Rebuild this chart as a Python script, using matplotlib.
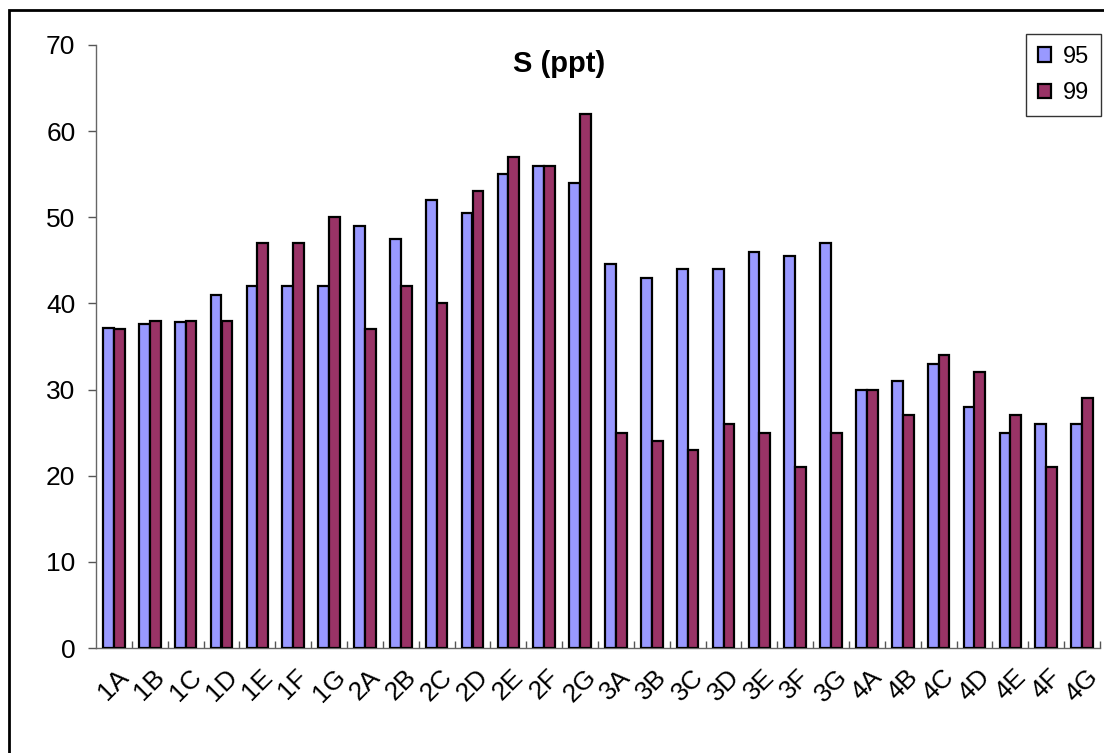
import matplotlib
matplotlib.use("Agg")
import matplotlib.pyplot as plt
import numpy as np
from matplotlib.patches import Rectangle

categories = ["1A", "1B", "1C", "1D", "1E", "1F", "1G",
              "2A", "2B", "2C", "2D", "2E", "2F", "2G",
              "3A", "3B", "3C", "3D", "3E", "3F", "3G",
              "4A", "4B", "4C", "4D", "4E", "4F", "4G"]
s95 = [37.2, 37.6, 37.8, 41, 42, 42, 42,
       49, 47.5, 52, 50.5, 55, 56, 54,
       44.6, 43, 44, 44, 46, 45.5, 47,
       30, 31, 33, 28, 25, 26, 26]
s99 = [37, 38, 38, 38, 47, 47, 50,
       37, 42, 40, 53, 57, 56, 62,
       25, 24, 23, 26, 25, 21, 25,
       30, 27, 34, 32, 27, 21, 29]
series_labels = ["95", "99"]
title = "S (ppt)"
yticks = [0, 10, 20, 30, 40, 50, 60, 70]

plt.rcParams['font.family'] = ['Liberation Sans', 'DejaVu Sans']

W, H = 1104, 753
fig = plt.figure(figsize=(W / 100, H / 100), dpi=100)
ax = fig.add_axes([96 / W, 105 / H, 1004 / W, 603 / H])

x = np.arange(len(categories))
bw = 0.3
ax.bar(x - bw / 2, s95, width=bw, color='#9999FF', edgecolor='black', linewidth=1.6, label=series_labels[0], zorder=3)
ax.bar(x + bw / 2, s99, width=bw, color='#993366', edgecolor='black', linewidth=1.6, label=series_labels[1], zorder=3)

ax.set_xlim(-0.5, len(categories) - 0.5)
ax.set_ylim(0, 70)
ax.set_yticks(yticks)
ax.set_yticklabels([str(v) for v in yticks], fontsize=19)
ax.tick_params(axis='y', direction='out', length=5.8, width=1, color='#555555', pad=9)

ax.set_xticks(x)
ax.set_xticklabels(categories, fontsize=19, rotation=45, ha='center', va='top')
ax.tick_params(axis='x', which='major', length=0, pad=12)
ax.set_xticks(np.arange(len(categories)) + 0.5, minor=True)
ax.tick_params(axis='x', which='minor', direction='in', length=5, width=1, color='#555555')

for side in ['top', 'right']:
    ax.spines[side].set_visible(False)
for side in ['left', 'bottom']:
    ax.spines[side].set_color('#666666')
    ax.spines[side].set_linewidth(1)

fig.text(559 / W, 1 - 72.5 / H, title, fontsize=21, fontweight='bold', ha='center', va='baseline')

leg = ax.legend(loc='upper right', bbox_to_anchor=(1101 / W, 1 - 34 / H), bbox_transform=fig.transFigure,
                fontsize=17, frameon=True, fancybox=False, borderaxespad=0, handlelength=0.55,
                handleheight=0.55, handletextpad=0.5, labelspacing=0.6, borderpad=0.5)
leg.get_frame().set_edgecolor('black')
leg.get_frame().set_linewidth(1)

fig.patches.append(Rectangle((9 / W, -0.1), 1.2, 743 / H + 0.1, transform=fig.transFigure,
                             fill=False, edgecolor='black', linewidth=2))

fig.savefig("out.png", dpi=100)
